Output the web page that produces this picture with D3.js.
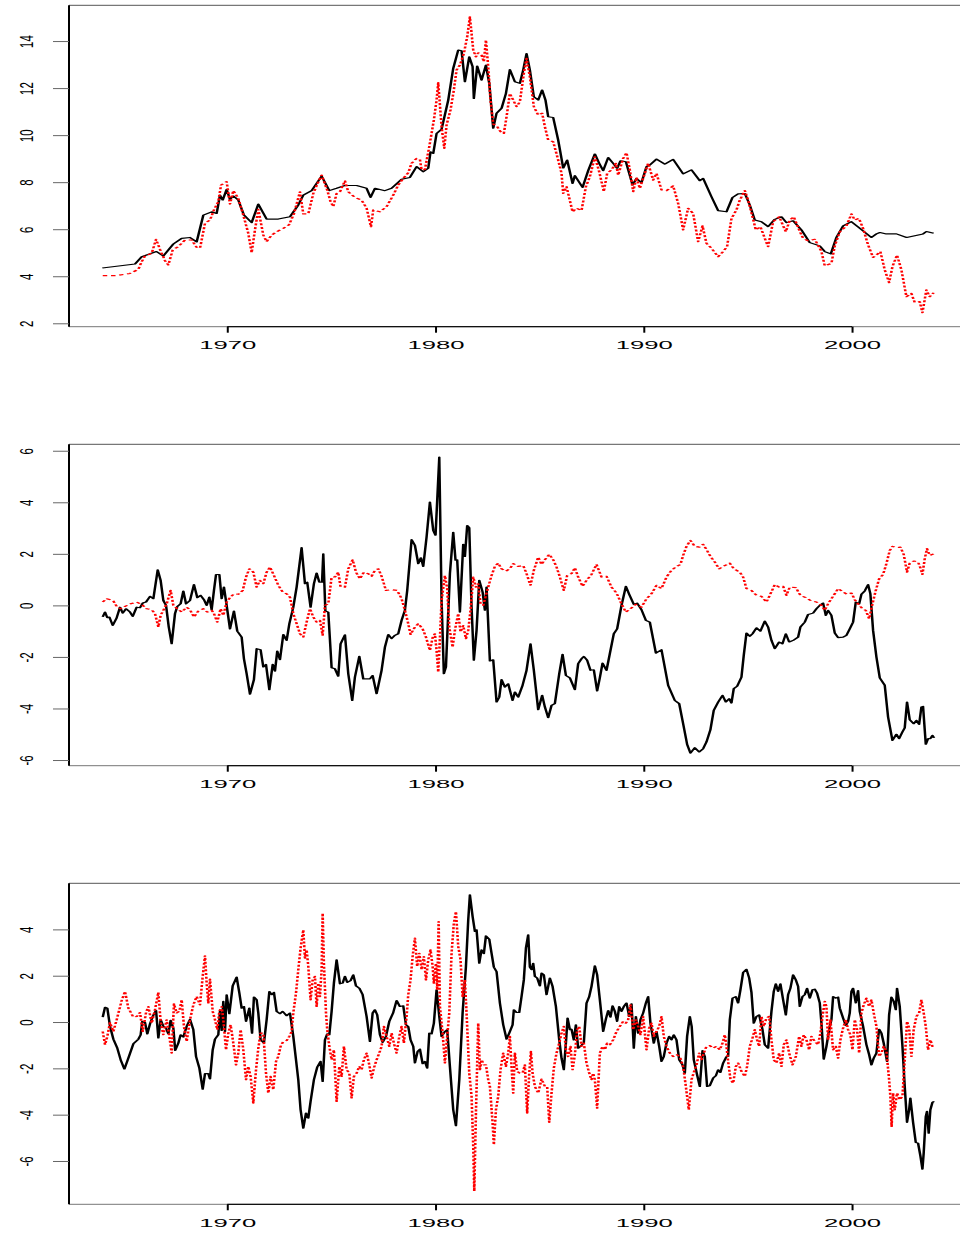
<!DOCTYPE html>
<html><head><meta charset="utf-8">
<script src="https://cdnjs.cloudflare.com/ajax/libs/d3/7.8.5/d3.min.js"></script>
<style>body{margin:0;background:#fff}svg{display:block}</style>
</head><body>
<svg id="chart" width="960" height="1234"></svg>
<script>
// ---------- data: [year, value] ----------
const xTicks = [1970, 1980, 1990, 2000];
const yTicks1 = [2, 4, 6, 8, 10, 12, 14];
const yTicks2 = [-6, -4, -2, 0, 2, 4, 6];
const yTicks3 = [-6, -4, -2, 0, 2, 4];

const p1Solid = [[1964.0,4.35],[1965.57,4.52],[1965.89,4.83],[1966.6,5.05],[1966.93,4.86],[1967.41,5.37],[1967.81,5.61],[1968.21,5.65],[1968.53,5.46],[1968.85,6.6],[1969.25,6.74],[1969.49,6.67],[1969.65,7.45],[1969.78,7.24],[1969.97,7.69],[1970.13,7.27],[1970.29,7.41],[1970.53,7.24],[1970.8,6.6],[1971.17,6.28],[1971.49,7.07],[1971.89,6.43],[1972.45,6.43],[1973.01,6.53],[1973.41,7.03],[1973.65,7.45],[1974.05,7.64],[1974.53,8.26],[1974.9,7.64],[1975.25,7.74],[1975.65,7.86],[1976.21,7.86],[1976.69,7.74],[1976.88,7.35],[1977.09,7.74],[1977.57,7.64],[1977.89,7.74],[1978.37,8.12],[1978.77,8.2],[1979.09,8.66],[1979.41,8.44],[1979.65,8.59],[1979.76,9.29],[1979.89,9.22],[1980.05,10.07],[1980.29,10.25],[1980.61,11.49],[1980.85,12.84],[1981.09,13.62],[1981.25,13.59],[1981.41,12.27],[1981.62,13.33],[1981.78,12.91],[1981.84,11.56],[1982.0,12.94],[1982.21,12.34],[1982.42,12.98],[1982.58,12.2],[1982.77,10.29],[1982.93,10.93],[1983.17,11.14],[1983.38,11.77],[1983.57,12.79],[1983.81,12.27],[1984.05,12.2],[1984.21,12.77],[1984.37,13.47],[1984.53,12.77],[1984.72,11.63],[1984.93,11.49],[1985.12,11.92],[1985.28,11.49],[1985.41,10.78],[1985.65,10.75],[1985.89,9.79],[1986.13,8.6],[1986.32,8.94],[1986.58,7.95],[1986.69,8.28],[1987.06,7.78],[1987.33,8.49],[1987.65,9.2],[1987.86,8.8],[1988.05,8.49],[1988.29,9.05],[1988.53,8.8],[1988.72,8.59],[1988.88,8.91],[1989.14,8.87],[1989.46,7.88],[1989.65,8.16],[1989.89,7.98],[1990.13,8.66],[1990.29,8.73],[1990.61,8.98],[1991.01,8.77],[1991.41,8.97],[1991.89,8.35],[1992.29,8.52],[1992.69,8.06],[1992.85,8.16],[1993.25,7.38],[1993.57,6.79],[1993.97,6.74],[1994.26,7.35],[1994.53,7.5],[1994.85,7.52],[1995.09,7.03],[1995.33,6.39],[1995.65,6.32],[1995.97,6.11],[1996.29,6.42],[1996.61,6.53],[1996.85,6.28],[1997.17,6.36],[1997.57,5.97],[1997.97,5.43],[1998.45,5.29],[1998.69,5.05],[1998.98,4.95],[1999.25,5.65],[1999.57,6.14],[1999.97,6.32],[2000.37,6.04],[2000.93,5.65],[2001.17,5.8],[2001.34,5.86],[2001.65,5.8],[2002.13,5.8],[2002.62,5.65],[2003.41,5.8],[2003.57,5.9],[2003.92,5.83]];

const p1Dotted = [[1964.02,4.03],[1964.69,4.03],[1965.33,4.12],[1965.73,4.29],[1965.89,4.62],[1966.05,4.86],[1966.37,4.97],[1966.58,5.57],[1966.77,5.14],[1967.01,4.66],[1967.17,4.48],[1967.38,5.12],[1967.65,5.26],[1967.97,5.54],[1968.29,5.54],[1968.53,5.23],[1968.69,5.19],[1968.93,6.25],[1969.17,6.39],[1969.36,6.82],[1969.57,7.17],[1969.7,7.88],[1969.97,8.02],[1970.13,7.07],[1970.29,7.64],[1970.53,7.31],[1970.77,6.6],[1971.01,5.82],[1971.17,5.0],[1971.33,5.97],[1971.49,6.84],[1971.73,5.75],[1971.89,5.47],[1972.13,5.75],[1972.37,5.89],[1972.69,6.04],[1972.96,6.18],[1973.2,6.65],[1973.49,7.59],[1973.65,6.65],[1973.89,6.65],[1974.13,7.52],[1974.34,7.95],[1974.53,8.3],[1974.8,7.66],[1974.96,7.17],[1975.09,6.96],[1975.25,7.52],[1975.41,7.59],[1975.65,8.06],[1975.81,7.59],[1976.13,7.35],[1976.45,7.24],[1976.69,6.89],[1976.9,6.11],[1977.01,6.82],[1977.33,6.74],[1977.65,6.96],[1977.97,7.45],[1978.21,7.88],[1978.45,8.16],[1978.69,8.4],[1978.85,8.8],[1979.09,9.01],[1979.25,8.97],[1979.33,8.52],[1979.49,8.54],[1979.7,9.51],[1979.92,10.64],[1980.05,11.49],[1980.13,12.23],[1980.29,10.36],[1980.42,9.44],[1980.53,10.43],[1980.72,11.07],[1980.88,11.92],[1981.01,12.77],[1981.17,12.98],[1981.36,13.47],[1981.52,14.18],[1981.65,15.03],[1981.81,13.62],[1981.94,13.33],[1982.05,13.5],[1982.21,13.4],[1982.32,13.12],[1982.42,14.04],[1982.53,12.91],[1982.64,11.49],[1982.77,10.47],[1982.96,10.36],[1983.12,10.15],[1983.28,10.07],[1983.41,10.78],[1983.57,11.77],[1983.73,11.49],[1983.89,11.21],[1984.05,11.42],[1984.24,12.62],[1984.37,13.26],[1984.53,12.48],[1984.72,11.21],[1984.93,10.85],[1985.12,10.93],[1985.25,10.36],[1985.41,9.79],[1985.65,9.72],[1985.89,8.94],[1986.05,8.38],[1986.13,7.52],[1986.29,7.81],[1986.58,6.74],[1986.77,6.89],[1987.01,6.79],[1987.22,7.81],[1987.41,8.23],[1987.65,9.08],[1987.86,8.44],[1988.08,7.6],[1988.24,8.37],[1988.45,8.52],[1988.66,8.8],[1988.77,8.3],[1989.01,9.01],[1989.17,9.25],[1989.33,8.52],[1989.49,7.6],[1989.65,8.2],[1989.81,7.74],[1989.97,8.16],[1990.21,8.8],[1990.45,8.09],[1990.61,8.37],[1990.85,7.67],[1991.09,7.64],[1991.41,7.84],[1991.65,7.1],[1991.89,5.97],[1992.13,6.89],[1992.37,6.67],[1992.61,5.47],[1992.82,6.14],[1993.01,5.4],[1993.25,5.19],[1993.57,4.83],[1993.81,5.05],[1994.0,5.26],[1994.21,6.46],[1994.45,6.82],[1994.61,7.24],[1994.85,7.64],[1995.01,7.24],[1995.22,6.53],[1995.38,5.97],[1995.6,6.11],[1995.81,5.61],[1995.97,5.26],[1996.21,6.32],[1996.5,6.53],[1996.82,5.89],[1997.01,6.39],[1997.2,6.53],[1997.46,5.97],[1997.65,5.61],[1997.89,5.51],[1998.21,5.57],[1998.53,5.05],[1998.69,4.44],[1999.01,4.55],[1999.17,5.29],[1999.41,5.89],[1999.73,6.14],[1999.97,6.65],[2000.13,6.39],[2000.33,6.46],[2000.53,6.04],[2000.77,5.33],[2001.01,4.8],[2001.17,4.9],[2001.36,5.05],[2001.57,4.27],[2001.78,3.73],[2001.94,4.41],[2002.16,4.9],[2002.37,4.27],[2002.61,3.13],[2002.85,3.27],[2003.01,2.88],[2003.25,2.92],[2003.38,2.45],[2003.57,3.42],[2003.73,3.13],[2003.92,3.3]];

const p2Solid = [[1964.02,-0.45],[1964.13,-0.26],[1964.24,-0.48],[1964.34,-0.45],[1964.5,-0.78],[1964.69,-0.48],[1964.85,-0.07],[1964.98,-0.3],[1965.14,-0.13],[1965.33,-0.26],[1965.46,-0.43],[1965.65,-0.07],[1965.81,-0.09],[1965.94,0.09],[1966.1,0.13],[1966.29,0.35],[1966.45,0.26],[1966.66,1.38],[1966.8,0.97],[1966.93,0.19],[1967.06,0.0],[1967.19,-0.84],[1967.33,-1.49],[1967.49,-0.32],[1967.6,-0.04],[1967.76,0.06],[1967.89,0.56],[1968.02,0.06],[1968.21,0.19],[1968.4,0.81],[1968.56,0.3],[1968.72,0.39],[1968.88,0.22],[1969.01,0.0],[1969.14,0.32],[1969.25,-0.17],[1969.36,0.58],[1969.46,1.2],[1969.62,1.2],[1969.73,0.26],[1969.84,0.71],[1969.97,0.0],[1970.13,-0.91],[1970.32,-0.22],[1970.48,-1.0],[1970.69,-1.23],[1970.8,-2.07],[1970.93,-2.65],[1971.09,-3.45],[1971.28,-2.88],[1971.41,-1.68],[1971.6,-1.72],[1971.73,-2.39],[1971.86,-2.29],[1972.02,-3.27],[1972.18,-2.29],[1972.29,-2.55],[1972.4,-1.77],[1972.53,-2.11],[1972.69,-1.13],[1972.85,-1.36],[1972.98,-0.71],[1973.17,-0.07],[1973.33,0.71],[1973.57,2.24],[1973.73,0.84],[1973.84,0.9],[1974.0,-0.07],[1974.16,0.84],[1974.29,1.25],[1974.42,0.9],[1974.55,0.9],[1974.61,2.0],[1974.71,-0.22],[1974.85,-0.26],[1975.01,-2.42],[1975.17,-2.46],[1975.33,-2.75],[1975.44,-1.49],[1975.65,-1.14],[1975.81,-2.65],[1976.0,-3.69],[1976.13,-2.78],[1976.34,-1.98],[1976.53,-2.85],[1976.85,-2.85],[1976.98,-2.72],[1977.17,-3.43],[1977.41,-2.52],[1977.57,-1.62],[1977.73,-1.13],[1977.89,-1.29],[1978.05,-1.16],[1978.21,-1.1],[1978.37,-0.58],[1978.53,-0.19],[1978.64,0.58],[1978.85,2.55],[1979.01,2.33],[1979.17,1.62],[1979.3,1.85],[1979.41,1.51],[1979.57,2.65],[1979.73,4.01],[1979.89,2.91],[1980.0,2.72],[1980.18,5.75],[1980.29,0.19],[1980.4,-2.65],[1980.5,-2.39],[1980.69,1.23],[1980.85,2.84],[1980.96,1.75],[1981.04,1.77],[1981.17,-0.26],[1981.33,2.37],[1981.41,1.9],[1981.52,3.1],[1981.62,3.01],[1981.73,-0.07],[1981.84,-2.13],[1981.97,-0.97],[1982.1,0.97],[1982.26,0.52],[1982.37,-0.19],[1982.45,0.71],[1982.61,-2.16],[1982.77,-2.11],[1982.93,-3.75],[1983.06,-3.56],[1983.17,-2.88],[1983.33,-3.17],[1983.49,-3.04],[1983.7,-3.69],[1983.81,-3.36],[1983.97,-3.56],[1984.18,-3.1],[1984.37,-2.52],[1984.56,-1.49],[1984.72,-2.52],[1984.93,-4.05],[1985.12,-3.49],[1985.25,-3.94],[1985.41,-4.36],[1985.57,-3.88],[1985.73,-3.81],[1985.94,-2.65],[1986.1,-1.9],[1986.26,-2.72],[1986.45,-2.81],[1986.69,-3.27],[1986.85,-2.26],[1987.01,-2.07],[1987.12,-1.98],[1987.28,-2.13],[1987.44,-2.52],[1987.6,-2.5],[1987.76,-3.32],[1987.89,-2.81],[1988.02,-2.24],[1988.21,-2.52],[1988.37,-1.87],[1988.56,-1.1],[1988.72,-0.91],[1988.93,0.0],[1989.14,0.74],[1989.3,0.43],[1989.52,0.04],[1989.68,0.09],[1989.89,-0.17],[1990.1,-0.58],[1990.29,-0.65],[1990.58,-1.85],[1990.85,-1.72],[1991.17,-3.1],[1991.49,-3.69],[1991.7,-3.81],[1991.89,-4.59],[1992.08,-5.39],[1992.24,-5.73],[1992.45,-5.52],[1992.66,-5.69],[1992.85,-5.56],[1993.01,-5.3],[1993.2,-4.82],[1993.36,-4.07],[1993.57,-3.75],[1993.78,-3.49],[1993.94,-3.75],[1994.1,-3.62],[1994.21,-3.79],[1994.32,-3.23],[1994.48,-3.14],[1994.69,-2.78],[1994.8,-1.94],[1994.93,-1.07],[1995.09,-1.2],[1995.22,-1.1],[1995.41,-0.87],[1995.6,-1.0],[1995.81,-0.61],[1995.97,-0.84],[1996.13,-1.36],[1996.29,-1.68],[1996.5,-1.42],[1996.66,-1.49],[1996.82,-1.1],[1996.98,-1.42],[1997.17,-1.36],[1997.41,-1.23],[1997.52,-0.84],[1997.73,-0.65],[1997.89,-0.35],[1998.13,-0.3],[1998.29,-0.13],[1998.45,0.0],[1998.61,0.09],[1998.74,-0.39],[1998.85,-0.19],[1999.01,-0.39],[1999.17,-1.07],[1999.33,-1.25],[1999.57,-1.23],[1999.73,-1.16],[1999.89,-0.91],[2000.05,-0.65],[2000.18,0.13],[2000.34,0.06],[2000.45,0.43],[2000.61,0.56],[2000.77,0.81],[2000.88,0.45],[2001.01,-0.97],[2001.17,-2.0],[2001.33,-2.81],[2001.57,-3.1],[2001.73,-4.33],[2001.94,-5.24],[2002.13,-5.0],[2002.26,-5.17],[2002.42,-4.91],[2002.53,-4.75],[2002.64,-3.75],[2002.77,-4.44],[2002.96,-4.59],[2003.09,-4.46],[2003.22,-4.62],[2003.33,-3.94],[2003.41,-3.92],[2003.54,-5.39],[2003.65,-5.17],[2003.76,-5.17],[2003.86,-5.04],[2003.94,-5.14]];

const p2Dotted = [[1964.02,0.13],[1964.21,0.26],[1964.4,0.22],[1964.53,0.17],[1964.69,-0.04],[1964.88,-0.13],[1965.09,-0.04],[1965.36,0.06],[1965.65,0.13],[1965.89,0.04],[1966.13,-0.13],[1966.37,-0.17],[1966.53,-0.32],[1966.69,-0.84],[1966.8,-0.39],[1966.93,-0.19],[1967.09,0.06],[1967.28,0.58],[1967.41,0.0],[1967.6,-0.13],[1967.81,-0.26],[1968.05,-0.07],[1968.21,-0.17],[1968.4,-0.45],[1968.61,-0.22],[1968.85,-0.13],[1969.04,-0.26],[1969.25,-0.19],[1969.36,-0.32],[1969.52,-0.65],[1969.68,-0.13],[1969.81,-0.39],[1969.97,0.13],[1970.13,0.3],[1970.32,0.45],[1970.53,0.43],[1970.74,0.58],[1970.9,1.1],[1971.06,1.42],[1971.25,1.29],[1971.41,0.71],[1971.57,0.97],[1971.73,0.84],[1971.89,1.29],[1972.05,1.49],[1972.24,1.16],[1972.45,0.78],[1972.66,0.52],[1972.85,0.45],[1973.01,0.32],[1973.17,-0.32],[1973.33,-0.71],[1973.49,-1.1],[1973.65,-1.23],[1973.81,-0.65],[1973.97,-0.13],[1974.13,-0.45],[1974.29,-0.65],[1974.45,-0.58],[1974.58,-1.16],[1974.69,0.0],[1974.85,0.06],[1975.01,1.1],[1975.17,1.1],[1975.33,1.29],[1975.44,0.71],[1975.65,0.71],[1975.81,1.42],[1976.02,1.77],[1976.18,1.29],[1976.37,1.03],[1976.56,1.29],[1976.77,1.23],[1976.93,1.13],[1977.09,1.36],[1977.25,1.42],[1977.41,1.13],[1977.62,0.58],[1977.89,0.61],[1978.16,0.58],[1978.37,0.26],[1978.53,-0.19],[1978.69,-0.71],[1978.8,-1.13],[1979.01,-0.84],[1979.17,-0.71],[1979.38,-0.91],[1979.54,-1.23],[1979.73,-1.75],[1979.86,-1.25],[1979.97,-1.1],[1980.05,-1.75],[1980.13,-2.59],[1980.21,-1.29],[1980.29,0.19],[1980.45,1.16],[1980.56,0.65],[1980.66,-0.84],[1980.82,-1.62],[1980.93,-0.97],[1981.09,-0.32],[1981.2,-1.03],[1981.33,-0.78],[1981.46,-1.29],[1981.57,-0.97],[1981.68,-0.19],[1981.81,1.1],[1981.94,0.71],[1982.05,0.84],[1982.16,0.06],[1982.29,0.0],[1982.42,0.39],[1982.53,0.71],[1982.69,1.16],[1982.85,1.51],[1983.01,1.64],[1983.17,1.42],[1983.38,1.33],[1983.57,1.42],[1983.73,1.62],[1983.97,1.51],[1984.21,1.55],[1984.37,1.23],[1984.56,0.78],[1984.72,1.36],[1984.93,1.87],[1985.09,1.59],[1985.25,1.77],[1985.46,1.98],[1985.65,1.77],[1985.81,1.49],[1985.97,1.1],[1986.16,0.58],[1986.32,1.16],[1986.53,1.23],[1986.69,1.46],[1986.85,1.1],[1987.06,0.74],[1987.25,0.97],[1987.49,1.2],[1987.73,1.59],[1987.97,1.1],[1988.21,1.13],[1988.45,0.71],[1988.69,0.48],[1988.93,0.06],[1989.14,-0.26],[1989.36,-0.13],[1989.62,0.04],[1989.89,-0.07],[1990.13,0.26],[1990.37,0.45],[1990.61,0.78],[1990.85,0.65],[1991.09,1.1],[1991.33,1.36],[1991.57,1.51],[1991.76,1.59],[1991.89,1.94],[1992.05,2.29],[1992.24,2.52],[1992.45,2.29],[1992.66,2.26],[1992.85,2.37],[1993.04,2.13],[1993.2,1.9],[1993.41,1.68],[1993.62,1.42],[1993.81,1.51],[1994.13,1.64],[1994.32,1.42],[1994.61,1.29],[1994.77,1.1],[1994.93,0.65],[1995.17,0.58],[1995.41,0.39],[1995.65,0.35],[1995.89,0.13],[1996.05,0.39],[1996.29,0.81],[1996.5,0.71],[1996.69,0.74],[1996.85,0.39],[1997.01,0.71],[1997.3,0.69],[1997.52,0.39],[1997.78,0.3],[1998.05,0.17],[1998.29,0.13],[1998.53,0.0],[1998.69,-0.19],[1998.85,0.06],[1999.01,0.26],[1999.17,0.45],[1999.33,0.65],[1999.57,0.52],[1999.76,0.43],[1999.97,0.48],[2000.13,0.22],[2000.29,0.06],[2000.5,-0.13],[2000.66,-0.19],[2000.82,-0.52],[2000.98,0.06],[2001.14,0.58],[2001.3,1.03],[2001.49,1.2],[2001.65,1.62],[2001.81,2.13],[2001.94,2.29],[2002.13,2.24],[2002.32,2.26],[2002.48,1.98],[2002.64,1.29],[2002.77,1.64],[2002.96,1.72],[2003.17,1.68],[2003.28,1.46],[2003.38,1.2],[2003.49,1.81],[2003.6,2.2],[2003.73,1.94],[2003.92,2.0]];

const p3Solid = [[1964.02,0.21],[1964.13,0.64],[1964.24,0.6],[1964.37,-0.19],[1964.53,-0.74],[1964.72,-1.13],[1964.88,-1.63],[1965.06,-2.03],[1965.25,-1.56],[1965.49,-0.94],[1965.73,-0.74],[1965.84,-0.55],[1965.92,0.03],[1966.05,-0.02],[1966.16,-0.51],[1966.29,-0.08],[1966.42,0.24],[1966.58,0.5],[1966.69,-0.69],[1966.8,0.1],[1966.93,-0.19],[1967.06,-0.26],[1967.17,-0.51],[1967.28,0.07],[1967.41,-0.26],[1967.5,-1.23],[1967.65,-0.91],[1967.76,-0.55],[1967.89,-0.65],[1968.05,-0.19],[1968.21,0.12],[1968.37,-0.33],[1968.5,-1.49],[1968.66,-1.99],[1968.82,-2.9],[1968.93,-2.23],[1969.09,-2.23],[1969.17,-2.46],[1969.3,-1.2],[1969.41,-0.74],[1969.57,-0.55],[1969.65,0.46],[1969.73,-0.36],[1969.81,0.89],[1969.89,-0.41],[1969.97,1.18],[1970.1,0.36],[1970.26,1.56],[1970.45,1.94],[1970.58,1.25],[1970.69,0.6],[1970.8,0.67],[1970.9,0.03],[1971.06,0.6],[1971.19,-0.48],[1971.28,1.08],[1971.41,0.96],[1971.49,0.39],[1971.6,-0.77],[1971.76,-0.91],[1971.89,0.1],[1972.02,1.32],[1972.13,1.18],[1972.24,1.28],[1972.37,0.46],[1972.53,0.36],[1972.66,0.46],[1972.85,0.27],[1973.01,0.39],[1973.17,-0.62],[1973.3,-1.63],[1973.41,-2.49],[1973.52,-3.79],[1973.65,-4.58],[1973.78,-3.93],[1973.89,-4.15],[1974.0,-3.43],[1974.16,-2.49],[1974.32,-1.95],[1974.48,-1.7],[1974.58,-2.57],[1974.69,-0.77],[1974.8,-0.51],[1974.9,-0.55],[1975.01,0.46],[1975.12,1.68],[1975.25,2.69],[1975.41,1.65],[1975.54,1.68],[1975.65,1.97],[1975.76,1.71],[1975.92,1.79],[1976.05,2.04],[1976.18,1.56],[1976.34,1.46],[1976.5,1.18],[1976.69,0.24],[1976.85,-0.84],[1976.98,0.39],[1977.09,0.53],[1977.2,0.31],[1977.33,-0.55],[1977.46,-0.88],[1977.62,-0.62],[1977.78,0.03],[1977.97,0.41],[1978.13,0.93],[1978.29,0.67],[1978.45,0.7],[1978.58,-0.12],[1978.69,-0.19],[1978.8,-0.77],[1978.93,-1.05],[1979.01,-1.77],[1979.14,-1.27],[1979.25,-1.17],[1979.38,-1.8],[1979.49,-1.7],[1979.6,-1.99],[1979.7,-0.48],[1979.81,-0.51],[1979.92,-0.05],[1980.05,1.39],[1980.18,0.24],[1980.29,-0.62],[1980.45,-0.41],[1980.56,-0.33],[1980.69,-1.92],[1980.85,-3.79],[1980.98,-4.48],[1981.14,-2.49],[1981.3,0.39],[1981.46,2.4],[1981.57,4.41],[1981.65,5.49],[1981.78,4.56],[1981.89,3.91],[1981.97,3.98],[1982.1,2.54],[1982.21,3.12],[1982.32,2.95],[1982.42,3.72],[1982.58,3.58],[1982.69,2.97],[1982.8,2.37],[1982.93,2.18],[1983.09,0.82],[1983.25,-0.12],[1983.41,-0.74],[1983.54,-0.48],[1983.7,-0.12],[1983.76,0.53],[1983.89,0.41],[1984.02,0.41],[1984.13,1.1],[1984.24,1.82],[1984.34,3.19],[1984.45,3.77],[1984.53,2.37],[1984.61,2.26],[1984.69,2.54],[1984.77,1.97],[1984.88,1.9],[1985.01,1.56],[1985.09,2.11],[1985.2,2.04],[1985.33,1.18],[1985.49,1.9],[1985.62,1.54],[1985.78,0.67],[1985.94,-0.77],[1986.05,-1.56],[1986.16,-2.06],[1986.26,-0.91],[1986.34,0.17],[1986.45,-0.33],[1986.53,-0.31],[1986.64,-0.77],[1986.74,-0.12],[1986.85,-1.13],[1986.96,-1.05],[1987.12,-0.91],[1987.25,0.82],[1987.38,1.1],[1987.49,1.54],[1987.65,2.43],[1987.76,2.04],[1987.89,0.96],[1988.05,-0.41],[1988.18,0.13],[1988.29,0.5],[1988.4,0.21],[1988.5,0.7],[1988.61,0.46],[1988.72,0.03],[1988.82,0.67],[1988.93,0.46],[1989.04,0.67],[1989.17,0.82],[1989.3,0.24],[1989.41,0.79],[1989.52,-1.13],[1989.62,0.24],[1989.73,-0.48],[1989.84,0.1],[1989.97,0.39],[1990.1,0.82],[1990.21,1.1],[1990.32,-0.05],[1990.48,-0.91],[1990.61,-0.41],[1990.74,-1.05],[1990.85,-1.7],[1990.96,-1.49],[1991.09,-0.91],[1991.22,-0.62],[1991.33,-0.77],[1991.44,-0.55],[1991.57,-0.77],[1991.7,-1.63],[1991.86,-1.85],[1991.97,-2.21],[1992.08,-0.62],[1992.21,0.24],[1992.3,-0.19],[1992.4,-1.63],[1992.56,-2.28],[1992.69,-2.78],[1992.82,-1.23],[1992.93,-1.49],[1993.04,-2.78],[1993.17,-2.75],[1993.33,-2.42],[1993.46,-2.32],[1993.57,-2.06],[1993.68,-2.18],[1993.81,-1.77],[1993.97,-1.49],[1994.05,-1.49],[1994.13,0.1],[1994.26,1.03],[1994.42,1.1],[1994.53,0.82],[1994.64,1.39],[1994.77,2.14],[1994.93,2.28],[1995.06,1.9],[1995.17,1.28],[1995.28,-0.05],[1995.41,0.24],[1995.54,0.31],[1995.7,-0.33],[1995.81,-0.98],[1995.97,-1.13],[1996.13,0.46],[1996.24,1.32],[1996.34,1.65],[1996.45,1.32],[1996.56,1.65],[1996.69,0.96],[1996.82,0.31],[1996.93,1.18],[1997.04,1.46],[1997.17,2.04],[1997.3,1.82],[1997.41,1.54],[1997.49,0.67],[1997.62,1.1],[1997.73,1.18],[1997.84,1.46],[1997.97,1.03],[1998.1,1.39],[1998.21,1.42],[1998.32,1.25],[1998.45,0.82],[1998.53,-0.05],[1998.64,-1.6],[1998.77,-1.05],[1998.9,-0.33],[1999.01,0.1],[1999.09,1.1],[1999.22,1.03],[1999.33,1.08],[1999.41,0.6],[1999.57,0.17],[1999.7,-0.16],[1999.81,0.03],[1999.89,0.39],[1999.97,1.32],[2000.05,1.46],[2000.18,0.82],[2000.29,1.36],[2000.37,0.46],[2000.53,-0.19],[2000.69,-0.98],[2000.82,-1.41],[2000.93,-1.85],[2001.04,-1.56],[2001.17,-1.34],[2001.3,-0.31],[2001.41,-0.48],[2001.52,-0.91],[2001.68,-1.7],[2001.78,0.31],[2001.89,1.08],[2002.0,0.89],[2002.1,0.53],[2002.16,1.46],[2002.29,0.67],[2002.42,-1.05],[2002.53,-2.78],[2002.64,-4.33],[2002.74,-3.79],[2002.8,-3.28],[2002.93,-4.33],[2003.06,-5.2],[2003.17,-5.23],[2003.28,-5.77],[2003.38,-6.35],[2003.44,-5.66],[2003.54,-4.08],[2003.6,-3.86],[2003.68,-4.8],[2003.76,-3.79],[2003.86,-3.47],[2003.94,-3.43]];

const p3Dotted = [[1964.02,-0.41],[1964.13,-0.98],[1964.24,-0.62],[1964.37,-0.02],[1964.53,-0.41],[1964.69,0.1],[1964.93,0.93],[1965.09,1.32],[1965.25,0.6],[1965.49,0.21],[1965.65,0.24],[1965.81,0.41],[1965.94,-0.41],[1966.1,0.41],[1966.21,0.67],[1966.37,-0.05],[1966.53,0.53],[1966.69,1.28],[1966.8,0.03],[1966.93,-0.55],[1967.09,0.1],[1967.22,-0.62],[1967.33,-1.34],[1967.44,0.79],[1967.57,0.39],[1967.7,0.46],[1967.81,0.96],[1967.92,-0.19],[1968.05,-0.84],[1968.21,0.1],[1968.37,0.74],[1968.53,1.1],[1968.69,0.74],[1968.82,1.97],[1968.93,2.86],[1969.01,1.68],[1969.09,0.82],[1969.17,1.85],[1969.3,0.46],[1969.41,0.1],[1969.52,-0.33],[1969.62,0.46],[1969.73,0.67],[1969.81,0.1],[1969.94,-1.2],[1970.05,-0.48],[1970.16,-0.12],[1970.29,-0.91],[1970.42,-1.85],[1970.53,-1.34],[1970.64,-0.33],[1970.77,-1.2],[1970.9,-2.49],[1971.01,-1.92],[1971.12,-2.35],[1971.25,-3.5],[1971.38,-2.06],[1971.49,-1.13],[1971.6,-0.48],[1971.73,-0.48],[1971.86,-2.21],[1971.97,-3.07],[1972.08,-2.35],[1972.21,-2.92],[1972.34,-1.7],[1972.45,-1.49],[1972.56,-1.05],[1972.69,-0.84],[1972.85,-0.8],[1972.98,-0.62],[1973.09,-0.41],[1973.17,0.39],[1973.3,1.25],[1973.41,2.26],[1973.52,3.19],[1973.65,3.98],[1973.73,2.76],[1973.81,3.12],[1973.89,2.4],[1974.0,0.96],[1974.1,1.82],[1974.21,1.97],[1974.29,0.67],[1974.37,1.68],[1974.45,1.1],[1974.53,2.26],[1974.58,4.7],[1974.64,2.54],[1974.74,0.39],[1974.8,-0.33],[1974.9,-1.05],[1975.01,-1.63],[1975.12,-1.2],[1975.25,-3.43],[1975.38,-1.92],[1975.49,-2.35],[1975.6,-1.05],[1975.73,-2.06],[1975.86,-2.21],[1975.97,-3.28],[1976.08,-2.35],[1976.21,-2.21],[1976.34,-1.92],[1976.45,-2.06],[1976.56,-1.63],[1976.69,-1.34],[1976.82,-1.85],[1976.93,-2.42],[1977.04,-1.99],[1977.17,-1.63],[1977.3,-1.34],[1977.41,-1.05],[1977.52,-0.19],[1977.65,-0.62],[1977.78,-1.05],[1977.89,-0.48],[1978.0,-0.91],[1978.13,-1.34],[1978.26,-0.62],[1978.37,-0.19],[1978.48,-0.91],[1978.61,0.24],[1978.69,1.18],[1978.8,1.82],[1978.9,2.83],[1979.01,3.62],[1979.12,2.4],[1979.22,2.97],[1979.33,2.26],[1979.44,2.83],[1979.54,1.82],[1979.65,2.69],[1979.76,3.12],[1979.86,2.4],[1979.92,1.68],[1980.02,2.54],[1980.08,1.39],[1980.15,4.34],[1980.21,0.67],[1980.34,-0.48],[1980.45,-1.77],[1980.56,-0.62],[1980.66,0.39],[1980.77,2.97],[1980.88,4.27],[1980.98,4.77],[1981.09,3.26],[1981.2,2.69],[1981.3,1.1],[1981.41,1.82],[1981.49,0.39],[1981.62,-2.21],[1981.73,-3.21],[1981.81,-5.37],[1981.86,-7.31],[1981.94,-3.93],[1982.05,-0.05],[1982.13,-2.06],[1982.21,-1.63],[1982.32,-1.85],[1982.42,-1.85],[1982.53,-2.49],[1982.61,-2.78],[1982.74,-4.36],[1982.8,-5.3],[1982.9,-3.79],[1983.01,-3.21],[1983.12,-2.06],[1983.25,-1.34],[1983.38,-1.92],[1983.49,-1.34],[1983.57,-0.62],[1983.65,-1.92],[1983.73,-3.07],[1983.81,-1.34],[1983.92,-2.13],[1984.05,-2.21],[1984.18,-2.21],[1984.29,-1.85],[1984.4,-3.93],[1984.5,-2.21],[1984.58,-1.27],[1984.66,-2.21],[1984.77,-2.78],[1984.93,-3.07],[1985.09,-2.46],[1985.25,-2.78],[1985.36,-2.78],[1985.46,-4.33],[1985.57,-3.07],[1985.68,-1.99],[1985.81,-1.34],[1985.94,-0.91],[1986.05,-0.48],[1986.16,-0.19],[1986.26,-1.2],[1986.37,-1.49],[1986.48,-1.05],[1986.58,-2.06],[1986.69,-1.41],[1986.8,-0.33],[1986.9,-0.19],[1987.01,-1.05],[1987.12,-0.91],[1987.25,-1.77],[1987.38,-2.21],[1987.49,-2.49],[1987.57,-2.21],[1987.65,-2.49],[1987.76,-3.72],[1987.89,-1.34],[1988.02,-1.05],[1988.13,-1.2],[1988.24,-0.91],[1988.37,-0.98],[1988.53,-0.77],[1988.69,-0.41],[1988.85,-0.19],[1989.01,0.03],[1989.14,-0.05],[1989.25,0.1],[1989.36,0.74],[1989.49,-0.33],[1989.62,0.1],[1989.73,-0.19],[1989.84,-0.55],[1989.97,0.24],[1990.13,-1.2],[1990.26,-0.26],[1990.37,-0.05],[1990.48,-0.62],[1990.61,-0.41],[1990.74,-0.19],[1990.85,0.24],[1990.96,-0.62],[1991.09,-1.05],[1991.25,-1.34],[1991.41,-1.49],[1991.57,-1.41],[1991.73,-1.49],[1991.89,-1.92],[1992.02,-2.78],[1992.16,-3.79],[1992.29,-2.49],[1992.4,-2.18],[1992.53,-1.85],[1992.66,-1.34],[1992.77,-1.63],[1992.88,-1.34],[1993.01,-1.05],[1993.17,-1.02],[1993.33,-1.13],[1993.49,-1.05],[1993.65,-1.2],[1993.78,-0.91],[1993.89,-0.55],[1993.97,-1.05],[1994.05,-1.7],[1994.16,-2.46],[1994.29,-2.64],[1994.42,-1.92],[1994.53,-1.77],[1994.69,-2.13],[1994.85,-2.35],[1994.96,-1.92],[1995.09,-1.05],[1995.22,-0.69],[1995.33,-0.33],[1995.44,-0.77],[1995.54,-1.05],[1995.65,0.24],[1995.76,-0.19],[1995.89,0.17],[1996.02,0.24],[1996.13,-0.77],[1996.24,-1.63],[1996.37,-1.77],[1996.5,-1.34],[1996.61,-1.92],[1996.72,-0.98],[1996.85,-0.77],[1996.98,-1.34],[1997.14,-1.85],[1997.3,-1.49],[1997.46,-0.62],[1997.57,-1.05],[1997.68,-0.55],[1997.81,-0.77],[1997.94,-1.2],[1998.05,-0.62],[1998.21,-0.84],[1998.37,-0.98],[1998.48,-0.48],[1998.58,0.24],[1998.69,0.89],[1998.77,0.67],[1998.85,-0.77],[1998.96,0.1],[1999.09,-1.2],[1999.22,-1.05],[1999.33,-1.56],[1999.44,-0.77],[1999.57,-0.26],[1999.7,0.1],[1999.81,-0.33],[1999.92,-0.55],[2000.02,-1.2],[2000.13,0.1],[2000.24,-0.33],[2000.34,-1.34],[2000.45,0.39],[2000.56,0.74],[2000.69,1.03],[2000.82,0.67],[2000.93,0.96],[2001.04,0.39],[2001.17,-0.19],[2001.3,-1.49],[2001.41,-1.34],[2001.52,-1.05],[2001.65,-1.27],[2001.78,-2.49],[2001.84,-3.21],[2001.9,-4.51],[2001.97,-3.07],[2002.05,-3.79],[2002.16,-3.07],[2002.29,-3.36],[2002.42,-3.21],[2002.53,-1.63],[2002.64,0.03],[2002.74,-0.26],[2002.85,-1.49],[2002.96,-0.33],[2003.09,0.24],[2003.22,0.39],[2003.33,0.96],[2003.44,0.39],[2003.54,-0.19],[2003.65,-1.2],[2003.76,-0.77],[2003.86,-1.05],[2003.94,-0.98]];

// ---------- layout ----------
const W = 960, H = 1234;
const K = 0.45;              // vertical squash used for anisotropic strokes
const xDomain = [1962.4, 2005.51];
const xRange = [69, 966.8];
const panels = [
  {top: 5.3,   bottom: 326.7,  domain: [1.855, 15.52], ticks: yTicks1, solid: p1Solid, dotted: p1Dotted},
  {top: 444.3, bottom: 765.7,  domain: [-6.22, 6.25],  ticks: yTicks2, solid: p2Solid, dotted: p2Dotted},
  {top: 883.3, bottom: 1204.3, domain: [-7.87, 5.99],  ticks: yTicks3, solid: p3Solid, dotted: p3Dotted}
];

const svg = d3.select('#chart');
svg.append('rect').attr('width', W).attr('height', H).attr('fill', '#fff');
const x = d3.scaleLinear().domain(xDomain).range(xRange);
const FONT = "'Liberation Sans', Arial, Helvetica, sans-serif";

panels.forEach(p => {
  const y = d3.scaleLinear().domain(p.domain).range([p.bottom, p.top]);
  const g = svg.append('g');

  // frame
  g.append('line').attr('x1', 69).attr('x2', 968).attr('y1', p.top).attr('y2', p.top)
    .attr('stroke', '#555').attr('stroke-width', 1);
  g.append('line').attr('x1', 69).attr('x2', 968).attr('y1', p.bottom).attr('y2', p.bottom)
    .attr('stroke', '#777').attr('stroke-width', 1);
  g.append('line').attr('x1', x(xTicks[0])).attr('x2', x(xTicks[xTicks.length - 1]))
    .attr('y1', p.bottom).attr('y2', p.bottom).attr('stroke', '#111').attr('stroke-width', 1.3);
  g.append('line').attr('x1', 69).attr('x2', 69).attr('y1', p.top).attr('y2', p.bottom)
    .attr('stroke', '#000').attr('stroke-width', 2);

  // series (anisotropic stroke: thin when flat, thick when steep)
  const lg = g.append('g').attr('transform', `scale(1,${K})`);
  const line = d3.line().x(d => x(d[0])).y(d => y(d[1]) / K);
  lg.append('path').datum(p.solid).attr('d', line).attr('fill', 'none')
    .attr('stroke', '#000').attr('stroke-width', 2.5).attr('stroke-linejoin', 'round');
  lg.append('path').datum(p.dotted).attr('d', line).attr('fill', 'none')
    .attr('stroke', '#ff0000').attr('stroke-width', 2.6).attr('stroke-dasharray', '4.5,3.8')
    .attr('stroke-linejoin', 'round');

  // y axis
  const ya = g.append('g').attr('transform', 'translate(69,0)')
    .call(d3.axisLeft(y).tickValues(p.ticks).tickSize(16).tickFormat(d => String(d)));
  ya.select('.domain').remove();
  ya.selectAll('.tick line').attr('stroke', '#666').attr('stroke-width', 1);
  ya.selectAll('.tick text').attr('x', null).attr('dy', null)
    .attr('text-anchor', 'middle').attr('fill', '#000')
    .attr('font-family', FONT).attr('font-size', 12)
    .attr('transform', 'translate(-36.3,0) rotate(-90) scale(0.95,1.5)');

  // x axis
  const xa = g.append('g').attr('transform', `translate(0,${p.bottom})`)
    .call(d3.axisBottom(x).tickValues(xTicks).tickSize(6).tickFormat(d => String(d)));
  xa.select('.domain').remove();
  xa.selectAll('.tick line').attr('stroke', '#000').attr('stroke-width', 2);
  xa.selectAll('.tick text').attr('y', null).attr('dy', null)
    .attr('text-anchor', 'middle').attr('fill', '#000')
    .attr('font-family', FONT).attr('font-size', 12)
    .attr('transform', 'translate(0,22.3) scale(2.14,0.97)');
});
</script>
</body></html>
